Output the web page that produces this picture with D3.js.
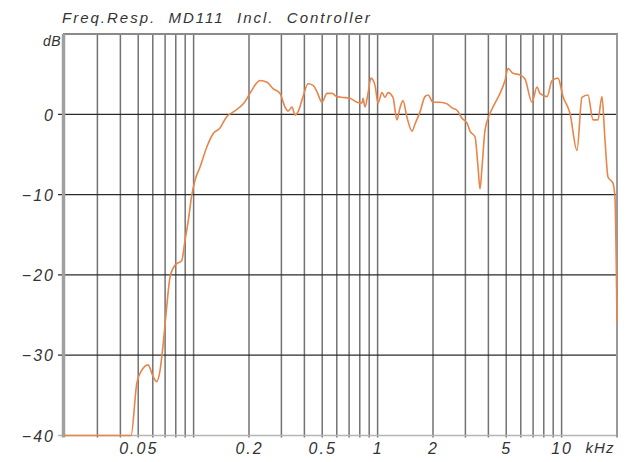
<!DOCTYPE html>
<html>
<head>
<meta charset="utf-8">
<script src="https://cdn.jsdelivr.net/npm/d3@7/dist/d3.min.js"></script>
<style>
  html, body { margin: 0; padding: 0; background: #fff; }
  svg { display: block; }
  text { font-family: "Liberation Sans", Arial, sans-serif; font-style: italic; fill: #333; }
</style>
</head>
<body>
<svg id="chart" width="629" height="462"></svg>
<script>
// Frequency response, MD111 incl. controller (frequency in kHz, level in dB)
const freqKHz = [
  0.02, 0.0457, 0.0491, 0.0522, 0.0565, 0.0604, 0.0630, 0.0657, 0.0684, 0.0714,
  0.0744, 0.0792, 0.0862, 0.0898, 0.0936, 0.0977, 0.1018, 0.1083, 0.1178, 0.1279,
  0.1391, 0.1513, 0.1643, 0.1862, 0.2025, 0.2202, 0.2295, 0.2506, 0.2700, 0.2949,
  0.3138, 0.3258, 0.3426, 0.3557, 0.3692, 0.3932, 0.4186, 0.4457, 0.4683, 0.4985,
  0.5307, 0.5651, 0.6016, 0.6486, 0.7080, 0.7727, 0.8226, 0.8332, 0.8542, 0.8868,
  0.9206, 0.968, 1.005, 1.056, 1.097, 1.139, 1.212, 1.274, 1.323, 1.374,
  1.445, 1.538, 1.597, 1.700, 1.809, 1.879, 2.0, 2.183, 2.384, 2.538,
  2.700, 2.875, 3.061, 3.178, 3.383, 3.512, 3.602, 3.693, 3.834, 4.082,
  4.345, 4.626, 4.924, 5.113, 5.443, 5.941, 6.325, 6.903, 7.349, 7.630,
  8.332, 8.868, 9.558, 10.18, 11.11, 12.12, 12.90, 13.91, 14.81, 15.76,
  16.57, 17.21, 17.87, 19.03, 19.51, 19.8, 20.0
];
const levelDb = [
  -40, -40, -33.5, -31.9, -31.2, -32.7, -33.3, -31.9, -28.5, -24,
  -20.3, -18.8, -18.2, -15.7, -13.2, -10.1, -8.2, -6.6, -4.1, -2.4,
  -1.7, -0.3, 0.3, 1.3, 2.6, 3.9, 4.2, 4.0, 3.2, 2.6,
  0.9, 0.4, 0.9, -0.1, 0.3, 2.2, 3.8, 3.6, 2.8, 1.5,
  2.6, 2.6, 2.2, 2.1, 2.0, 1.5, 1.4, 2.0, 0.9, 2.6,
  4.5, 3.6, 1.4, 2.7, 2.1, 2.7, 2.1, -0.7, 0.8, 1.7,
  -0.4, -2.1, -1.2, 0.3, 2.2, 2.4, 1.5, 1.5, 1.3, 0.8,
  0.5, -0.5, -1.1, -2.1, -2.8, -6.5, -9.3, -6.6, -2.0, 0.1,
  1.4, 2.6, 4.2, 5.7, 5.1, 4.9, 4.4, 1.5, 3.4, 2.6,
  2.2, 4.2, 4.5, 2.2, 0.1, -4.5, 2.1, 2.4, -0.7, -0.7,
  2.2, -3.2, -7.8, -8.6, -10.5, -18, -26
];

// Grid and tick definitions
const gridFreqs = [
  0.03, 0.04, 0.05, 0.06, 0.07, 0.08, 0.09,
  0.1, 0.2, 0.3, 0.4, 0.5, 0.6, 0.7, 0.8, 0.9,
  1, 2, 3, 4, 5, 6, 7, 8, 9, 10
];
const xTickValues = [0.05, 0.2, 0.5, 1, 2, 5, 10];
const xTickLabels = ["0.05", "0.2", "0.5", "1", "2", "5", "10"];
const yTickValues = [-40, -30, -20, -10, 0];
const yGridValues = [-30, -20, -10, 0];
const titleText = "Freq.Resp.  MD111  Incl.  Controller";
const yUnit = "dB";
const xUnit = "kHz";

const svg = d3.select("#chart");

const x = d3.scaleLog().domain([0.02, 20]).range([65, 617]);
const y = d3.scaleLinear().domain([-40, 10]).range([435.5, 34]);

const [x0, x1] = x.range();
const [yBottom, yTop] = y.range();

// Vertical frequency grid
svg.append("g")
  .selectAll("line")
  .data(gridFreqs)
  .join("line")
  .attr("x1", d => x(d)).attr("x2", d => x(d))
  .attr("y1", yTop).attr("y2", yBottom + 2)
  .attr("stroke", "#727272")
  .attr("stroke-width", 1.5);

// Horizontal level grid (extends a little left of the axis as tick marks)
svg.append("g")
  .selectAll("line")
  .data(yGridValues)
  .join("line")
  .attr("x1", x0 - 7).attr("x2", x1)
  .attr("y1", d => y(d)).attr("y2", d => y(d))
  .attr("stroke", "#2b2b2b")
  .attr("stroke-width", 1.3);

// Frame: top, bottom, left, right
svg.append("line")
  .attr("x1", x0 - 2).attr("x2", x1 + 1)
  .attr("y1", yTop).attr("y2", yTop)
  .attr("stroke", "#8a8a8a").attr("stroke-width", 2);
svg.append("line")
  .attr("x1", x0 - 7).attr("x2", x1 + 1)
  .attr("y1", yBottom).attr("y2", yBottom)
  .attr("stroke", "#b5b5b5").attr("stroke-width", 1.3);
svg.append("line")
  .attr("x1", x0 - 1.5).attr("x2", x0 - 1.5)
  .attr("y1", yTop).attr("y2", yBottom + 2)
  .attr("stroke", "#a0a0a0").attr("stroke-width", 3.5);
svg.append("line")
  .attr("x1", x1).attr("x2", x1)
  .attr("y1", yTop).attr("y2", yBottom + 2)
  .attr("stroke", "#9a9a9a").attr("stroke-width", 2);

// Response curve
const pts = freqKHz.map((f, i) => [f, levelDb[i]]);
const line = d3.line()
  .x(d => x(d[0]))
  .y(d => y(d[1]))
  .curve(d3.curveMonotoneX);

svg.append("path")
  .datum(pts)
  .attr("d", line)
  .attr("fill", "none")
  .attr("stroke", "#e8854a")
  .attr("stroke-width", 1.6)
  .attr("stroke-linejoin", "round");

// Y axis labels
const yAxis = d3.axisLeft(y)
  .tickValues(yTickValues)
  .tickSize(0)
  .tickPadding(0)
  .tickFormat(d3.format("d"));
const yg = svg.append("g")
  .attr("transform", `translate(${x0 - 10},0)`)
  .call(yAxis);
yg.select(".domain").remove();
yg.selectAll("text")
  .attr("fill", "#333")
  .style("font-size", "16px")
  .style("letter-spacing", "2px")
  .attr("dy", "0.36em");

svg.append("text")
  .attr("x", x0 - 4)
  .attr("y", yTop + 12)
  .attr("text-anchor", "end")
  .style("font-size", "14px")
  .style("letter-spacing", "0.5px")
  .text(yUnit);

// X axis labels
const xAxis = d3.axisBottom(x)
  .tickValues(xTickValues)
  .tickSize(0)
  .tickPadding(0)
  .tickFormat((d, i) => xTickLabels[i]);
const xg = svg.append("g")
  .attr("transform", `translate(0,${yBottom + 7})`)
  .call(xAxis);
xg.select(".domain").remove();
xg.selectAll("text")
  .attr("fill", "#333")
  .attr("dy", "0.72em")
  .style("font-size", "16px")
  .style("letter-spacing", "2px");

svg.append("text")
  .attr("x", x(10) + 24)
  .attr("y", yBottom + 7)
  .attr("dy", "0.72em")
  .style("font-size", "15px")
  .style("letter-spacing", "1px")
  .text(xUnit);

// Title
svg.append("text")
  .attr("x", x0 - 3)
  .attr("y", 23)
  .style("font-size", "15px")
  .style("letter-spacing", "2px")
  .style("white-space", "pre")
  .attr("xml:space", "preserve")
  .text(titleText);
</script>
</body>
</html>
